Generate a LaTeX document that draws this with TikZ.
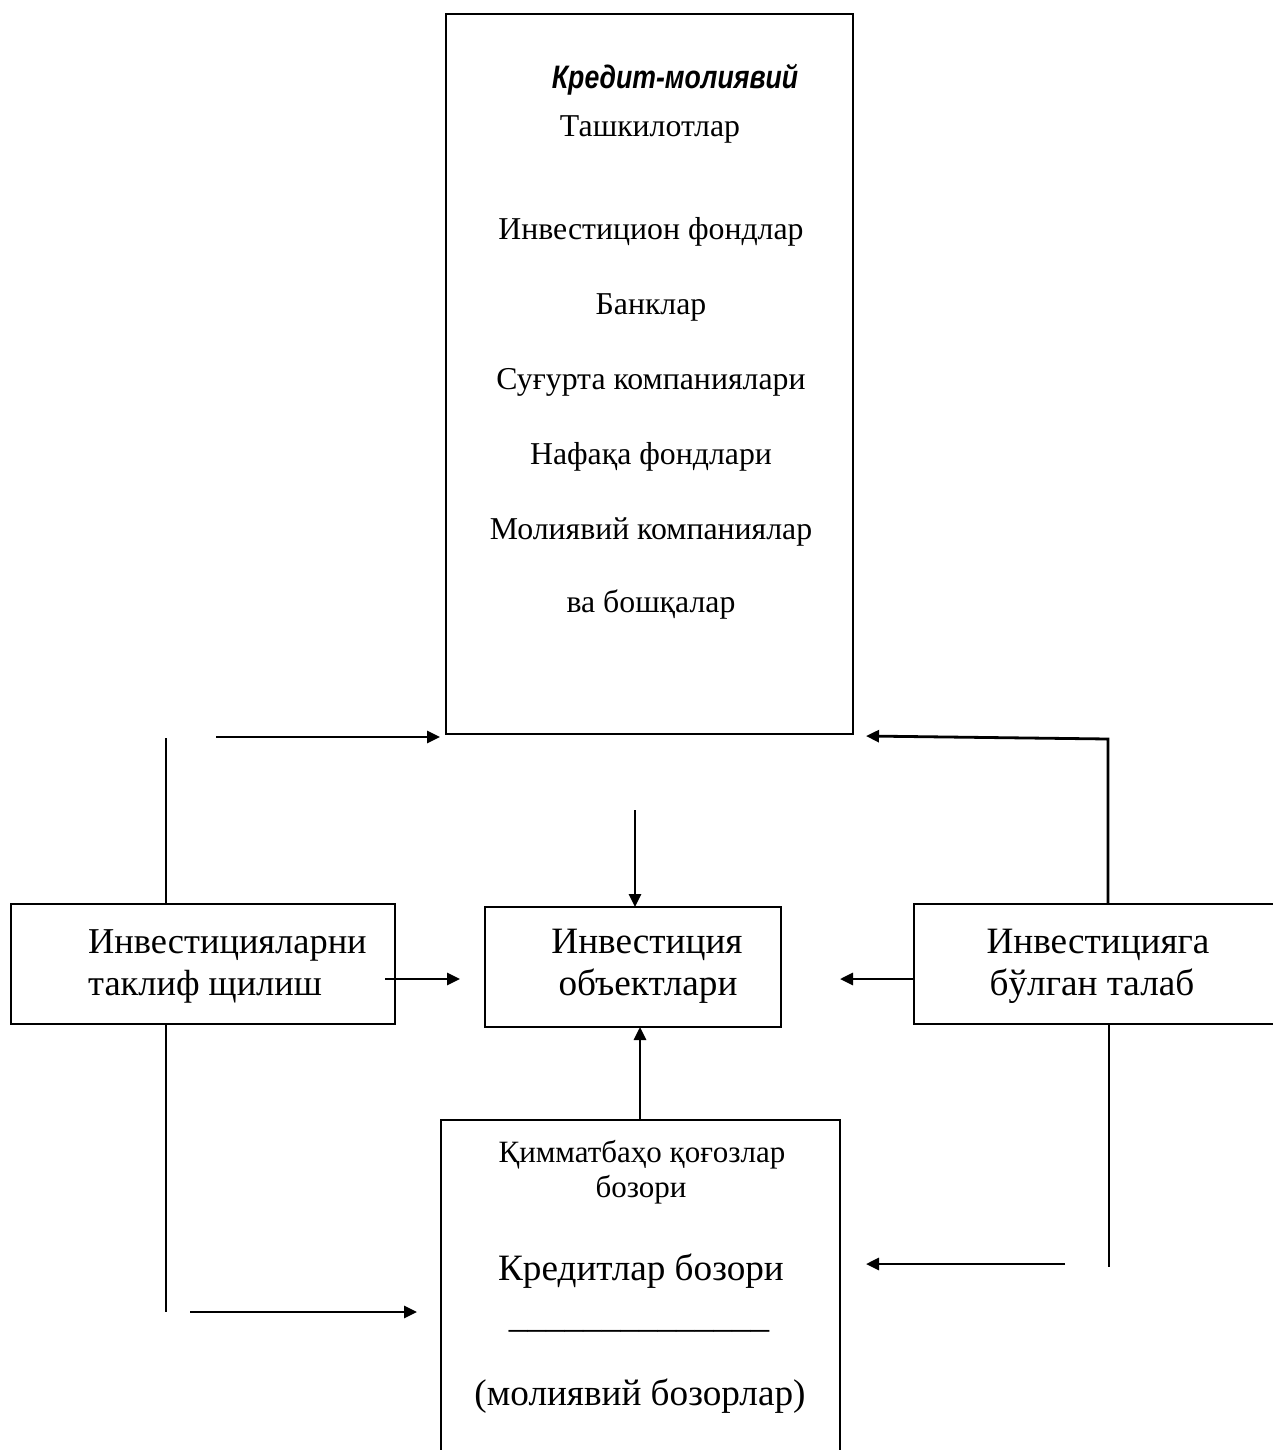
\documentclass[tikz,border=0pt]{standalone}
\usepackage{fontspec}
\setmainfont{Liberation Serif}
\newfontfamily\arialf[FakeStretch=0.82]{Liberation Sans}
\usetikzlibrary{arrows.meta}
\begin{document}
\begin{tikzpicture}[x=1pt,y=-1pt,
  box/.style={draw,line width=2pt,inner sep=0pt,outer sep=0pt,anchor=north west},
  conn/.style={line width=2.8pt},
  arr/.style={conn,-{Triangle[length=13pt,width=12pt]}},
  sm/.style={font=\fontsize{31.8}{36}\selectfont,anchor=base,inner sep=0pt},
  lg/.style={font=\fontsize{37.2}{42}\selectfont,anchor=base,inner sep=0pt},
]
\useasboundingbox (0,0) rectangle (1272,1450);
\fill[white] (0,0) rectangle (1272,1450);

% boxes
\node[box,minimum width=407pt,minimum height=720pt] (top) at (446,14) {};
\node[box,minimum width=384pt,minimum height=120pt] (L) at (11,904) {};
\node[box,minimum width=296pt,minimum height=120pt] (C) at (485,907) {};
\node[box,minimum width=376pt,minimum height=120pt] (R) at (914,904) {};
\node[box,minimum width=399pt,minimum height=350pt] (B) at (441,1120) {};

% top box text
\node[anchor=base,inner sep=0pt,font=\arialf\bfseries\itshape\fontsize{32.5}{36}\selectfont] (t0) at (675,89) {Кредит-молиявий};
\node[sm] (t1) at (650,137) {Ташкилотлар};
\node[sm] (t2) at (651,239) {Инвестицион фондлар};
\node[sm] (t3) at (651,314) {Банклар};
\node[sm] (t4) at (651,389) {Суғурта компаниялари};
\node[sm] (t5) at (651,464) {Нафақа фондлари};
\node[sm] (t6) at (651,539) {Молиявий компаниялар};
\node[sm] (t7) at (651,612) {ва бошқалар};

% middle row text
\node[lg,anchor=base west,font=\fontsize{36.4}{42}\selectfont] (l1) at (88,953) {Инвестицияларни};
\node[lg,anchor=base west,font=\fontsize{36.4}{42}\selectfont] (l2) at (88,995) {таклиф щилиш};
\node[lg] (c1) at (647,953) {Инвестиция};
\node[lg] (c2) at (648,995) {объектлари};
\node[lg] (r1) at (1098,953) {Инвестицияга};
\node[lg] (r2) at (1092,995) {бўлган талаб};

% bottom box text
\node[sm,font=\fontsize{31}{36}\selectfont] (b1) at (642,1162) {Қимматбаҳо қоғозлар};
\node[sm,font=\fontsize{31}{36}\selectfont] (b2) at (641,1197) {бозори};
\node[lg] (b3) at (641,1280) {Кредитлар бозори};
\node[lg] (b4) at (639,1327) {\textunderscore\textunderscore\textunderscore\textunderscore\textunderscore\textunderscore\textunderscore\textunderscore\textunderscore\textunderscore\textunderscore\textunderscore\textunderscore\textunderscore};
\node[lg] (b5) at (640,1405) {(молиявий бозорлар)};

% free ends
\coordinate (lu) at (166,738);
\coordinate (ld) at (166,1312);
\coordinate (a1s) at (216,737);
\coordinate (a1e) at (440,737);
\coordinate (rc) at (1108,739);
\coordinate (a2e) at (866,736);
\coordinate (d0) at (635,810);
\coordinate (lcs) at (385,979);
\coordinate (lce) at (460,979);
\coordinate (rcs) at (914,979);
\coordinate (rce) at (840,979);
\coordinate (rd) at (1109,1267);
\coordinate (a3s) at (1065,1264);
\coordinate (a3e) at (866,1264);
\coordinate (a4s) at (190,1312);
\coordinate (a4e) at (417,1312);

% connectors
\draw[conn] (lu) -- (lu |- L.north);
\draw[conn] (ld |- L.south) -- (ld);
\draw[arr] (a1s) -- (a1e);
\draw[arr] (rc |- R.north) -- (rc) -- (a2e);
\draw[arr] (d0) -- (d0 |- C.north);
\draw[arr] (B.north -| 640,0) -- (C.south -| 640,0);
\draw[arr] (lcs) -- (lce);
\draw[arr] (rcs) -- (rce);
\draw[conn] (rd |- R.south) -- (rd);
\draw[arr] (a3s) -- (a3e);
\draw[arr] (a4s) -- (a4e);
\end{tikzpicture}
\end{document}
